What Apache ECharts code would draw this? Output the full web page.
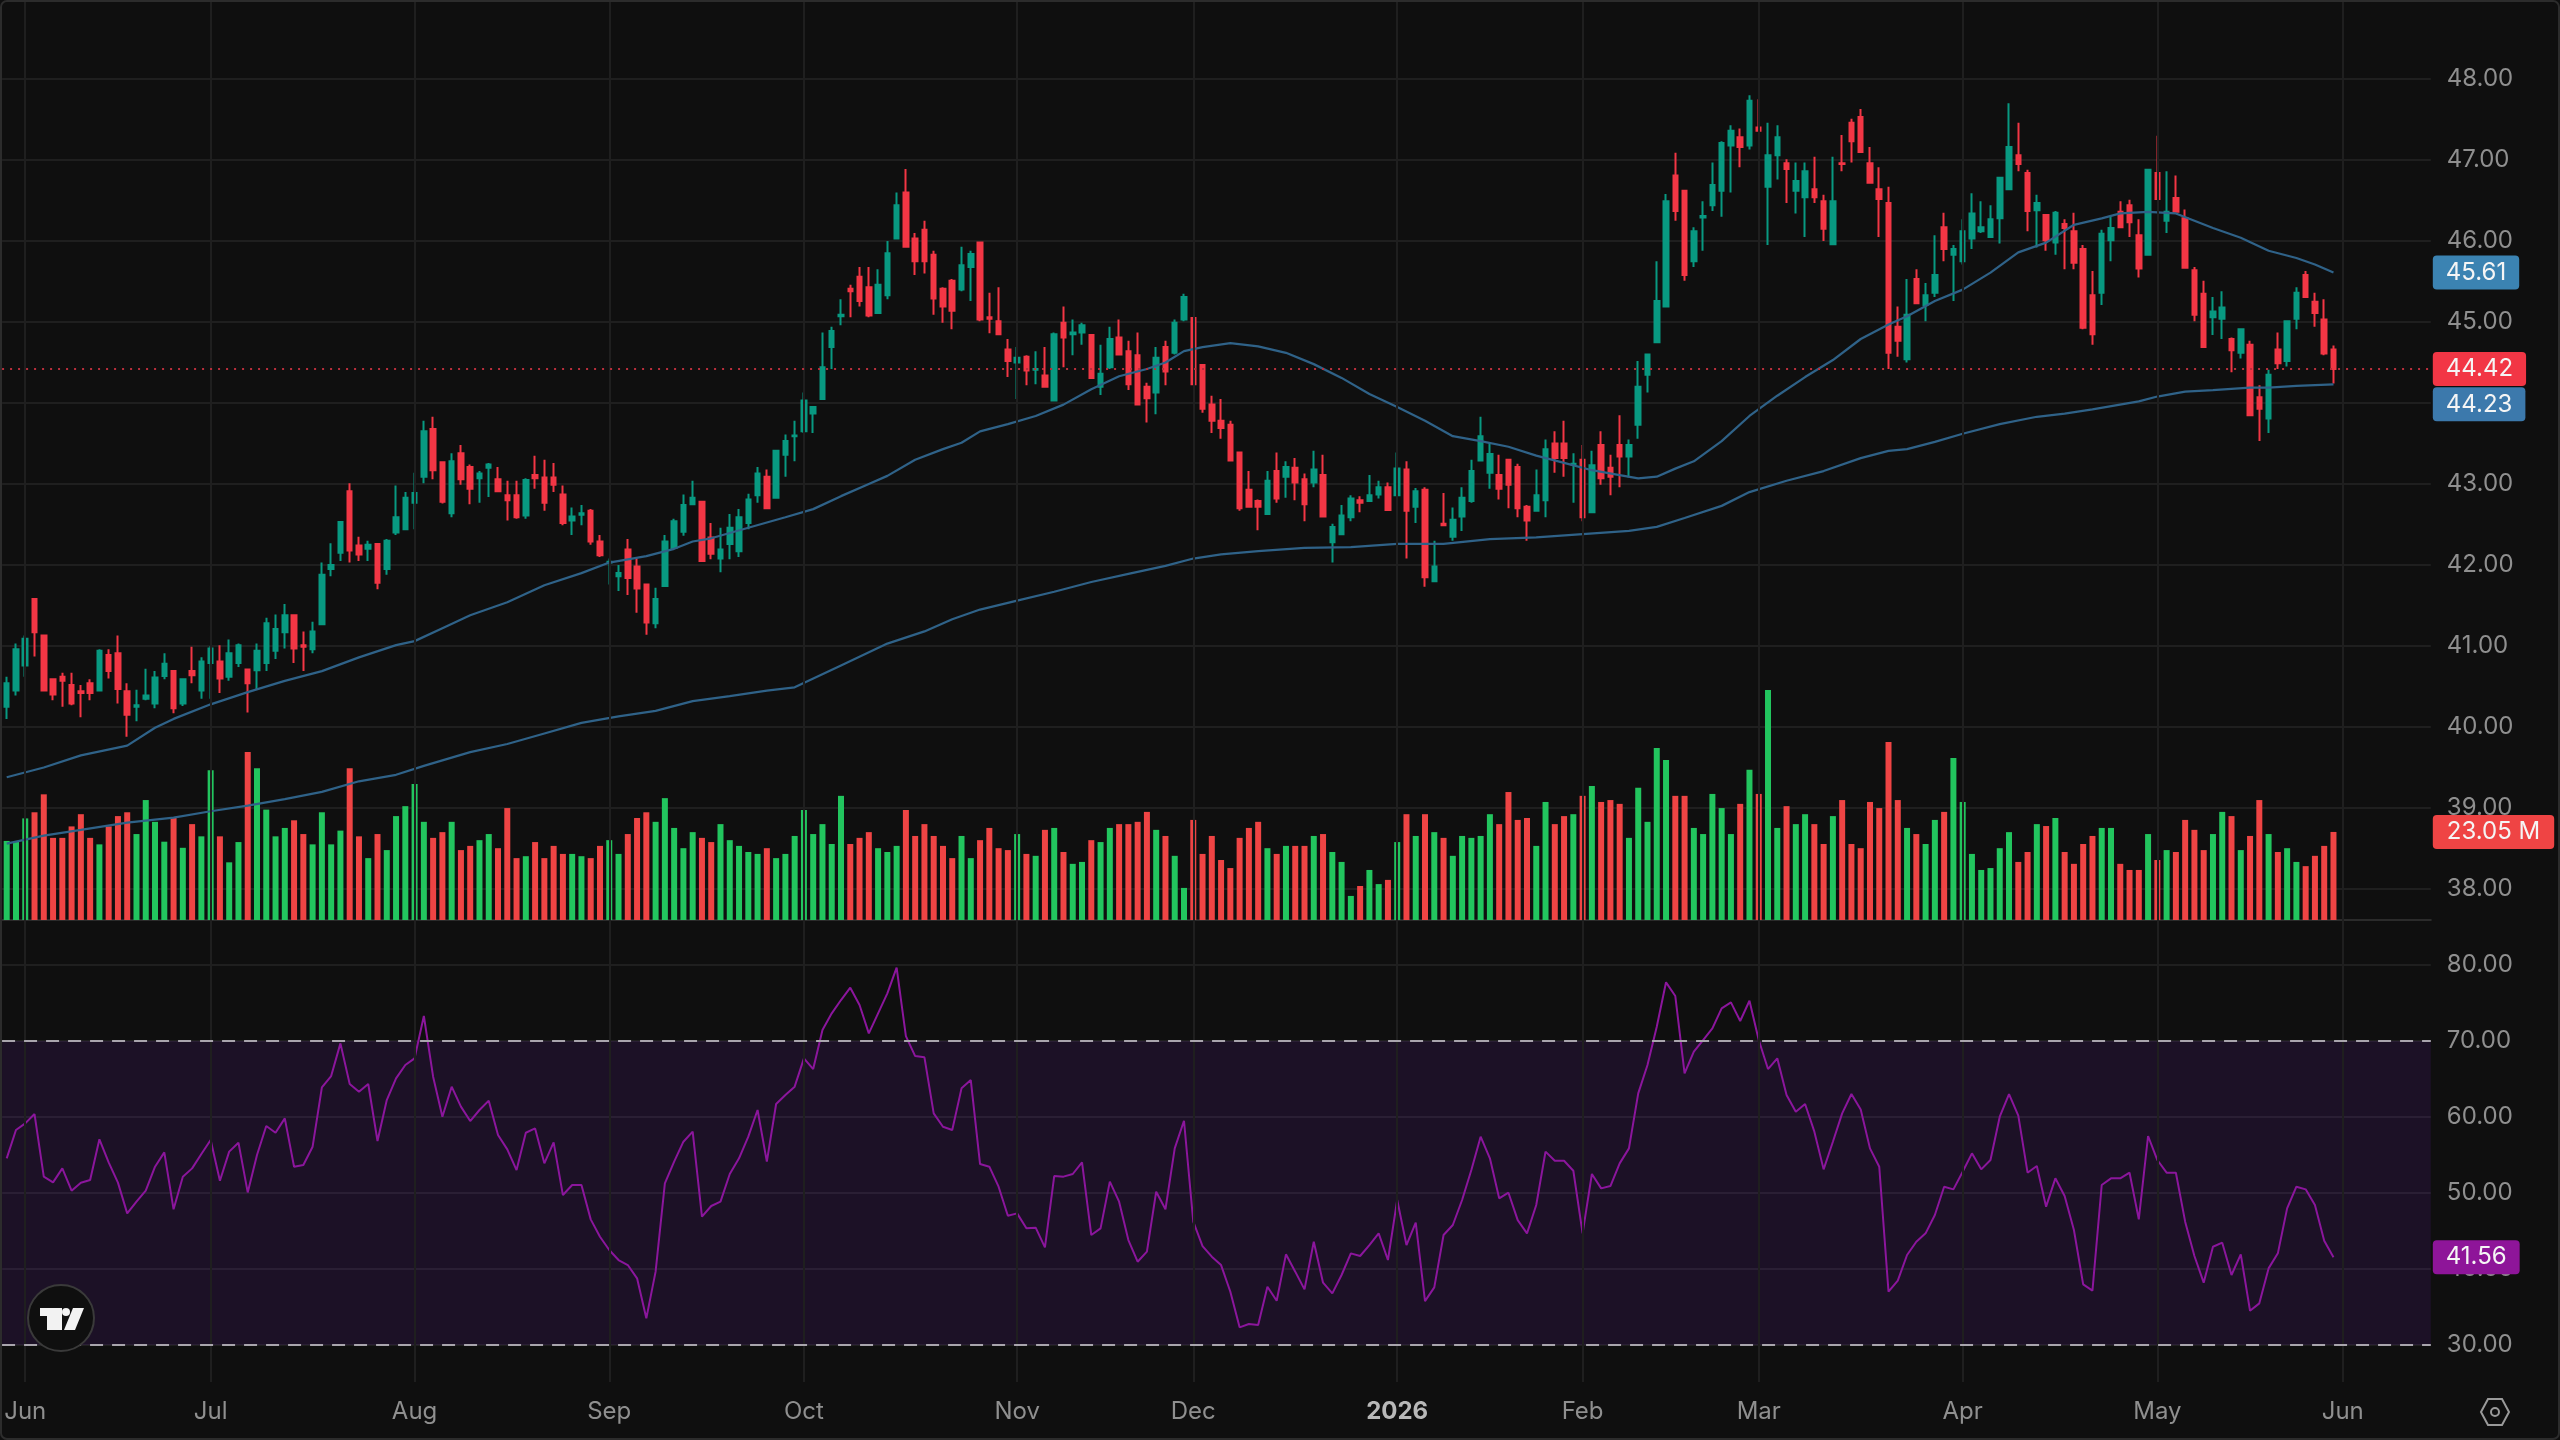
<!DOCTYPE html>
<html>
<head>
<meta charset="utf-8">
<title>Daily candlestick chart with volume and RSI</title>
<style>
  html, body { margin: 0; padding: 0; background: #0f0f0f; }
  #chart { width: 2560px; height: 1440px; }
</style>
<script src="https://cdn.jsdelivr.net/npm/echarts@6/dist/echarts.min.js"></script>
</head>
<body>
<div id="chart"></div>
<script>
// Daily session prices
const opens = [
40.25,40.45,40.76,41.58,41.13,40.59,40.62,40.52,40.44,40.54,
40.45,40.89,40.91,40.44,40.25,40.35,40.29,40.63,40.69,40.29,
40.69,40.45,40.79,40.81,40.62,40.79,40.71,40.70,40.79,40.94,
41.17,41.38,41.01,40.96,41.27,41.95,42.15,42.91,42.24,42.20,
42.26,41.95,42.40,42.44,42.77,43.09,43.68,43.27,42.64,43.38,
43.21,43.07,43.20,43.06,42.86,42.86,42.61,43.11,43.08,43.08,
42.87,42.55,42.62,42.67,42.29,42.03,41.86,42.19,41.98,41.76,
41.28,41.74,42.21,42.41,42.75,42.78,42.34,42.08,42.26,42.17,
42.52,42.86,43.09,42.83,43.36,43.59,43.65,43.87,44.05,44.69,
45.07,45.41,45.56,45.43,45.11,45.33,46.03,46.60,46.03,46.14,
45.83,45.41,45.51,45.40,45.68,45.98,45.06,45.01,44.66,44.50,
44.57,44.41,44.34,44.03,44.99,44.85,44.87,44.84,44.20,44.44,
44.81,44.64,44.59,44.20,44.13,44.69,44.62,45.03,45.05,44.47,
43.98,43.78,43.73,43.39,42.93,42.79,42.63,43.16,43.09,43.20,
43.06,43.02,43.11,42.28,42.38,42.59,42.80,42.79,42.87,42.96,
42.86,43.18,42.72,42.93,41.80,42.51,42.35,42.60,42.79,43.29,
43.14,43.11,43.30,43.21,42.72,42.67,42.80,43.50,43.50,43.24,
43.30,42.65,43.48,43.20,43.48,43.34,43.73,44.35,44.75,45.19,
46.81,46.62,45.75,46.29,46.44,46.62,47.18,47.28,47.18,47.40,
46.67,47.06,46.96,46.62,46.54,46.64,46.49,45.96,46.96,47.46,
47.53,46.96,46.64,46.47,44.94,44.54,45.53,45.21,45.36,46.17,
45.83,45.75,46.03,46.12,46.05,46.28,46.64,47.06,46.84,46.38,
46.32,45.98,46.21,46.12,45.90,45.33,45.36,46.01,46.36,46.44,
46.07,45.83,46.84,46.25,46.53,46.28,45.64,45.35,45.06,45.04,
44.79,44.62,44.72,44.07,43.81,44.66,44.52,45.04,45.58,45.25,
45.03,44.66];
const closes = [
40.54,40.96,41.09,41.17,40.45,40.40,40.57,40.29,40.42,40.42,
40.94,40.69,40.47,40.15,40.27,40.39,40.61,40.78,40.23,40.59,
40.64,40.81,40.97,40.60,40.91,41.01,40.54,40.94,41.28,41.21,
41.38,40.97,40.99,41.18,41.88,42.00,42.53,42.18,42.13,42.25,
41.78,42.30,42.59,42.83,42.89,43.65,43.17,42.78,43.28,43.06,
42.94,43.13,43.24,42.91,42.80,42.59,43.05,43.07,42.77,42.99,
42.52,42.60,42.64,42.29,42.12,42.04,41.90,41.84,41.71,41.29,
41.58,42.29,42.54,42.74,42.83,42.05,42.14,42.19,42.46,42.59,
42.81,43.13,42.70,43.41,43.53,43.60,44.03,43.95,44.44,44.89,
45.09,45.38,45.26,45.08,45.46,45.85,46.44,45.93,45.75,45.75,
45.29,45.19,45.14,45.70,45.84,45.03,45.04,44.85,44.52,44.56,
44.40,44.42,44.20,44.85,44.81,44.87,44.96,44.31,44.36,44.79,
44.60,44.23,43.98,44.06,44.56,44.39,44.99,45.31,44.23,43.93,
43.78,43.69,43.29,42.70,42.72,42.72,43.04,42.82,43.21,43.02,
42.75,43.18,42.60,42.47,42.61,42.82,42.77,42.86,42.96,42.68,
43.19,42.67,42.91,41.85,41.98,42.49,42.56,42.83,43.16,43.59,
43.37,42.94,42.99,42.70,42.55,42.86,43.43,43.32,43.32,43.25,
42.59,43.23,43.07,43.09,43.34,43.48,44.20,44.60,45.26,46.49,
46.37,45.58,46.12,46.31,46.69,47.21,47.36,47.16,47.73,47.36,
47.06,47.28,46.89,46.74,46.86,46.54,46.15,46.49,46.95,47.23,
47.10,46.72,46.52,44.62,44.77,45.09,45.23,45.33,45.58,45.90,
45.90,46.12,46.34,46.17,46.27,46.78,47.16,46.95,46.37,46.47,
46.01,46.35,46.16,45.73,44.93,44.85,46.09,46.16,46.17,46.23,
45.66,46.88,46.52,46.36,46.36,45.67,45.09,44.69,45.13,45.18,
44.65,44.91,43.85,43.93,44.35,44.49,45.01,45.36,45.31,45.11,
44.61,44.42];
const lows = [
40.10,40.39,40.62,40.87,40.45,40.33,40.25,40.27,40.12,40.33,
40.45,40.60,40.29,39.88,40.07,40.33,40.23,40.59,40.17,40.26,
40.54,40.35,40.35,40.42,40.57,40.74,40.18,40.46,40.69,40.84,
40.97,40.79,40.69,40.91,41.26,41.86,42.05,42.03,42.05,42.05,
41.70,41.88,42.37,42.44,42.44,43.01,43.06,42.76,42.59,42.99,
42.75,42.77,42.84,42.90,42.55,42.57,42.57,42.94,42.67,42.90,
42.49,42.37,42.49,42.25,42.10,41.76,41.68,41.63,41.41,41.14,
41.22,41.74,42.20,42.36,42.75,42.05,42.07,41.91,42.07,42.10,
42.44,42.77,42.69,42.82,43.09,43.28,43.63,43.63,44.05,44.42,
44.96,45.06,45.19,45.06,45.11,45.28,46.03,45.93,45.58,45.60,
45.09,44.99,44.91,45.38,45.26,45.01,44.86,44.84,44.32,44.05,
44.22,44.23,44.20,44.03,44.44,44.59,44.72,44.30,44.10,44.42,
44.59,44.16,43.98,43.76,43.86,44.22,44.60,45.01,44.22,43.88,
43.63,43.56,43.28,42.67,42.72,42.43,42.63,42.77,42.83,42.80,
42.54,42.96,42.60,42.03,42.37,42.54,42.65,42.78,42.82,42.68,
42.85,42.08,42.52,41.73,41.80,42.49,42.30,42.42,42.77,43.29,
42.94,42.81,42.70,42.59,42.30,42.67,42.59,43.14,43.09,42.77,
42.54,42.65,42.99,42.86,42.96,43.08,43.56,44.13,44.74,45.19,
46.25,45.51,45.68,45.88,46.37,46.30,46.60,46.91,47.13,47.36,
45.95,46.76,46.47,46.34,46.05,46.47,46.00,45.95,46.86,46.97,
47.09,46.72,46.05,44.42,44.57,44.50,45.22,45.01,45.31,45.75,
45.26,45.71,45.90,46.10,46.05,45.97,46.63,46.86,46.12,45.92,
45.88,45.83,45.65,45.65,44.91,44.72,45.21,45.75,46.17,46.05,
45.55,45.83,46.52,46.10,46.36,45.66,45.01,44.69,44.84,44.79,
44.38,44.55,43.84,43.53,43.63,44.42,44.45,44.91,45.31,44.94,
44.59,44.24];
const highs = [
40.62,41.03,41.13,41.58,41.13,40.59,40.67,40.67,40.52,40.59,
40.96,40.96,41.13,40.54,40.46,40.72,40.69,40.91,40.69,40.59,
40.99,40.86,41.00,41.01,41.08,41.03,40.72,41.03,41.35,41.39,
41.52,41.38,41.18,41.30,42.03,42.27,42.54,43.01,42.35,42.30,
42.27,42.32,42.98,42.90,43.14,43.78,43.83,43.28,43.38,43.48,
43.24,43.16,43.26,43.21,43.04,43.04,43.07,43.35,43.30,43.26,
42.98,42.71,42.74,42.69,42.37,42.08,42.00,42.32,42.08,41.77,
41.72,42.37,42.57,42.87,43.04,42.79,42.52,42.46,42.63,42.69,
42.88,43.21,43.18,43.41,43.61,43.78,44.13,43.95,44.87,44.94,
45.28,45.46,45.68,45.68,45.65,46.00,46.60,46.89,46.10,46.25,
45.88,45.43,45.53,45.93,45.88,45.98,45.36,45.43,44.79,44.69,
44.59,44.64,44.69,44.87,45.19,45.03,44.99,44.84,44.72,44.94,
45.03,44.77,44.87,44.25,44.69,44.77,45.03,45.35,45.06,44.47,
44.09,44.05,43.78,43.40,43.16,42.81,43.16,43.39,43.28,43.32,
43.13,43.41,43.36,42.51,42.74,42.86,42.85,43.11,43.04,43.02,
43.39,43.28,42.95,42.96,42.30,42.89,42.71,42.96,43.30,43.83,
43.51,43.36,43.30,43.25,42.74,43.18,43.55,43.65,43.78,43.38,
43.48,43.41,43.65,43.36,43.85,43.55,44.52,44.61,45.75,46.58,
47.09,46.62,46.17,46.49,46.97,47.23,47.43,47.39,47.80,47.75,
47.46,47.43,47.01,46.97,46.97,47.04,46.57,47.04,47.31,47.51,
47.63,47.16,46.91,46.67,45.19,45.53,45.65,45.48,46.07,46.35,
45.95,46.27,46.59,46.49,46.44,46.78,47.70,47.46,46.88,46.57,
46.32,46.37,46.27,46.35,45.95,45.63,46.14,46.30,46.49,46.51,
46.27,46.88,47.30,46.86,46.81,46.39,45.68,45.51,45.31,45.38,
44.81,44.91,44.77,44.22,44.41,44.87,45.01,45.43,45.63,45.36,
45.28,44.71];

// Share volume per session, in millions
const volumes = [
20.7,20.6,26.6,28.2,32.9,21.5,21.5,24.5,27.7,21.5,
19.8,24.5,27.2,28.2,22.5,31.4,25.7,20.5,26.7,18.9,
25.1,21.9,39.2,21.9,15.1,20.4,44.0,39.7,28.9,21.9,
24.1,26.1,22.5,19.8,28.2,19.8,23.4,39.7,21.9,16.2,
22.5,18.3,27.2,29.8,35.6,25.7,21.5,23.0,25.7,18.3,
19.4,20.9,22.5,18.8,29.3,16.2,16.7,20.4,16.2,19.4,
17.3,17.3,16.7,16.2,19.4,20.9,17.3,22.5,26.7,28.2,
25.7,31.9,24.1,18.8,23.0,21.5,20.4,25.1,20.9,19.4,
17.8,17.3,18.8,16.2,17.3,22.0,28.8,22.5,25.1,19.9,
32.5,19.9,21.5,23.0,18.8,17.8,19.4,28.8,22.0,25.1,
22.0,19.4,16.2,22.0,16.2,20.9,24.1,18.8,18.3,22.5,
17.3,16.8,23.6,24.1,17.8,14.7,15.2,20.9,20.4,24.1,
25.1,25.1,25.7,28.3,23.6,22.0,16.8,8.4,26.2,17.3,
22.0,15.7,13.6,21.5,24.1,25.7,18.8,17.3,19.4,19.4,
19.4,22.0,22.5,17.8,15.2,6.3,8.9,13.1,9.4,10.5,
20.4,27.7,22.0,27.7,23.0,21.5,16.8,22.0,21.5,22.0,
27.7,25.1,33.5,26.2,26.7,19.4,30.9,25.1,27.2,27.7,
32.5,35.1,30.9,31.4,30.4,21.5,34.6,25.7,45.0,41.9,
32.5,32.5,24.1,22.5,33.0,29.3,22.5,30.4,39.3,33.0,
60.2,24.1,29.8,25.1,27.7,25.1,19.9,27.2,31.4,19.9,
18.8,30.9,29.3,46.6,31.4,24.1,22.5,19.9,26.2,28.3,
42.4,30.9,17.3,13.1,13.6,18.8,23.0,15.2,17.8,25.1,
24.6,26.7,17.8,14.7,19.9,22.0,24.1,24.1,14.7,13.1,
13.1,22.5,15.7,18.3,17.8,26.2,23.6,18.3,22.5,28.3,
27.2,18.3,22.0,31.4,22.5,17.8,18.8,15.2,14.1,16.8,
19.4,23.05];

// Relative strength index per session
const rsiValues = [
54.56,58.29,59.16,60.39,52.15,51.40,53.24,50.30,51.36,51.71,
57.06,54.03,51.36,47.32,48.86,50.30,53.46,55.35,47.85,52.15,
53.24,55.13,56.97,51.62,55.44,56.62,50.08,55.00,58.81,57.93,
59.82,53.46,53.68,56.09,63.90,65.39,69.69,64.34,63.33,64.34,
56.84,62.23,65.08,66.84,67.72,73.29,65.30,60.04,63.99,61.36,
59.47,60.92,62.15,57.63,55.74,53.02,57.93,58.50,53.90,56.66,
49.73,51.05,51.05,46.53,44.25,42.50,41.18,40.52,38.77,33.51,
39.65,51.27,54.12,56.75,58.07,46.88,48.29,48.86,52.50,54.56,
57.41,60.92,54.12,61.71,62.89,63.99,67.72,66.31,71.44,73.64,
75.39,77.01,74.73,71.00,73.64,76.27,79.65,70.65,68.02,67.85,
60.48,58.72,58.29,63.77,64.86,53.81,53.46,50.83,47.01,47.32,
45.35,45.44,42.85,52.23,52.15,52.50,54.03,44.47,45.35,51.49,
48.86,43.81,40.96,42.28,50.17,47.85,55.87,59.51,46.23,43.02,
41.62,40.52,37.01,32.32,32.76,32.63,37.67,35.83,41.93,39.65,
37.32,43.59,38.20,36.79,39.21,42.06,41.71,43.15,44.69,41.18,
49.08,43.15,46.09,35.78,37.58,44.47,45.79,49.08,53.02,57.41,
54.56,49.30,50.04,46.44,44.69,48.42,55.44,54.25,54.25,52.93,
44.69,52.50,50.61,50.92,53.90,55.87,63.11,66.84,71.88,77.72,
75.92,65.74,68.59,70.13,71.66,74.29,75.08,72.63,75.30,70.13,
66.31,67.72,62.89,60.70,61.71,58.07,53.11,56.75,60.48,63.02,
61.00,55.87,53.46,37.01,38.46,41.84,43.59,44.69,47.10,50.83,
50.48,52.80,55.22,53.11,54.34,60.04,63.02,60.17,52.67,53.55,
48.20,51.93,49.60,45.13,37.98,37.15,51.05,51.93,51.93,52.67,
46.53,57.50,54.34,52.67,52.67,46.23,41.71,38.20,42.93,43.46,
39.21,41.93,34.51,35.48,40.08,42.06,47.98,50.83,50.48,48.42,
43.72,41.56];

// Moving averages as [session, value] readings
const fastAverage = [
[0,39.38],[4,39.50],[8,39.65],[13,39.77],[16,39.99],[18,40.10],[22,40.28],[26,40.43],[30,40.57],[34,40.69],
[38,40.86],[42,41.01],[44,41.06],[47,41.22],[50,41.38],[54,41.54],[58,41.75],[62,41.90],[65,42.03],[69,42.11],
[72,42.20],[74,42.29],[76,42.33],[80,42.46],[84,42.59],[87,42.69],[90,42.85],[93,43.00],[95,43.10],[98,43.30],
[101,43.43],[103,43.51],[105,43.65],[108,43.74],[111,43.84],[114,43.98],[117,44.17],[120,44.33],[123,44.42],[125,44.50],
[127,44.64],[129,44.69],[132,44.74],[135,44.70],[138,44.62],[141,44.48],[144,44.31],[147,44.11],[150,43.95],[153,43.78],
[156,43.59],[159,43.53],[162,43.46],[165,43.35],[168,43.26],[171,43.17],[174,43.11],[176,43.07],[178,43.09],[180,43.19],
[182,43.28],[185,43.53],[188,43.84],[191,44.09],[194,44.32],[197,44.53],[200,44.79],[203,44.97],[205,45.07],[208,45.26],
[211,45.40],[214,45.61],[217,45.86],[220,45.98],[223,46.20],[226,46.28],[228,46.34],[231,46.36],[234,46.34],[236,46.25],
[238,46.16],[241,46.04],[244,45.88],[247,45.79],[249,45.71],[251,45.61]];
const slowAverage = [
[0,38.56],[4,38.66],[8,38.73],[13,38.82],[18,38.88],[22,38.96],[26,39.03],[30,39.11],[34,39.20],[38,39.33],
[42,39.41],[45,39.52],[50,39.69],[54,39.79],[58,39.92],[62,40.05],[66,40.13],[70,40.20],[74,40.32],[78,40.38],
[82,40.45],[85,40.49],[90,40.76],[95,41.03],[99,41.18],[102,41.33],[105,41.45],[109,41.56],[113,41.67],[117,41.79],
[121,41.89],[125,41.99],[128,42.08],[131,42.13],[135,42.17],[140,42.21],[145,42.22],[150,42.26],[155,42.26],[160,42.32],
[165,42.34],[170,42.38],[175,42.42],[178,42.47],[181,42.58],[185,42.73],[188,42.90],[192,43.04],[196,43.16],[200,43.32],
[203,43.41],[205,43.43],[208,43.52],[211,43.62],[215,43.74],[219,43.83],[222,43.87],[225,43.92],[230,44.02],[232,44.08],
[235,44.14],[238,44.16],[242,44.19],[244,44.19],[247,44.21],[251,44.23]];

// Month boundaries on the session axis
const monthTicks = [
['Jun',2],['Jul',22],['Aug',44],['Sep',65],['Oct',86],['Nov',109],['Dec',128],
['2026',150],['Feb',170],['Mar',189],['Apr',211],['May',232],['Jun',252]];
const lastClose = 44.42, fastLast = 45.61, slowLast = 44.23, lastVolume = 23.05, lastRsi = 41.56;
const priceTicks = { min: 38, max: 49, interval: 1, hideTop: true };
const rsiTicks = { min: 30, max: 80, interval: 10, hideTop: false };
const slotCount = 262;

const FONT = 'Inter';
const BG = '#0f0f0f', UP = '#089981', DOWN = '#F23645';
const VOL_UP = '#22C55E', VOL_DOWN = '#EF4444';
const GRID = '#1f1f1f', AXIS_TEXT = '#8f8f8f';
const MA_COLOR = '#2f6288', RSI_COLOR = '#8b169c';
const LEFT = 2.07, WIDTH = 2428.74;

const slots = Array.from({ length: slotCount }, (_, i) => String(i));
const tickMap = new Map(monthTicks.map(([name, i]) => [i, name]));
const candles = opens.map((o, i) => [o, closes[i], lows[i], highs[i]]);

const hiddenCat = gridIndex => ({
  type: 'category', gridIndex, data: slots, boundaryGap: true,
  axisLine: { show: false }, axisTick: { show: false }, axisLabel: { show: false }, splitLine: { show: false }
});
const valueAxis = (gridIndex, t) => ({
  type: 'value', gridIndex, position: 'right', min: t.min, max: t.max, interval: t.interval, scale: true,
  axisLine: { show: false }, axisTick: { show: false },
  splitLine: { lineStyle: { color: GRID, width: 2 } },
  axisLabel: {
    margin: 16, color: AXIS_TEXT, fontFamily: FONT, fontSize: 24, showMaxLabel: !t.hideTop,
    formatter: v => v.toFixed(2)
  }
});
// A value tag sitting on the right-hand scale; the guide line stays invisible unless styled
const tag = (axis, value, text, bg, opts = {}) => ({
  [axis]: value,
  lineStyle: opts.line || { color: 'rgba(0,0,0,0)', width: 0 },
  label: {
    show: true, position: 'end', formatter: text, distance: 2, offset: opts.offset || [0, 0],
    color: '#f5f5f5', backgroundColor: bg, borderRadius: 4, padding: opts.padding || [5, 13],
    fontFamily: FONT, fontSize: 24, lineHeight: 24
  }
});
const pane = (top, height) => ({ left: LEFT, width: WIDTH, top, height, outerBoundsMode: 'none' });

const option = {
  animation: false,
  backgroundColor: BG,
  grid: [pane(0, 1382), pane(-2, 891), pane(614.4, 305.6), pane(965, 380)],
  xAxis: [
    {
      type: 'category', gridIndex: 0, data: slots, boundaryGap: true,
      axisLine: { show: false }, axisTick: { show: false }, splitLine: { show: false },
      axisLabel: {
        margin: 18, color: AXIS_TEXT, fontFamily: FONT, fontSize: 24,
        interval: i => tickMap.has(i),
        formatter: (v, i) => {
          const name = tickMap.get(i);
          return name === '2026' ? '{year|2026}' : name;
        },
        rich: { year: { color: '#b8b8b8', fontWeight: 700, fontFamily: FONT, fontSize: 24 } }
      }
    },
    hiddenCat(1),
    { ...hiddenCat(2), axisLine: { show: true, onZero: false, lineStyle: { color: '#2b2b2b', width: 2 } } },
    hiddenCat(3)
  ],
  yAxis: [
    { type: 'value', gridIndex: 0, min: 0, max: 1, show: false },
    valueAxis(1, priceTicks),
    { type: 'value', gridIndex: 2, min: 0, max: 80, show: false },
    valueAxis(3, rsiTicks)
  ],
  series: [
    {
      // Vertical month lines spanning every pane
      type: 'line', xAxisIndex: 0, yAxisIndex: 0, z: 0, silent: true, showSymbol: false,
      data: [[0, 0.5]], lineStyle: { opacity: 0 },
      markLine: {
        silent: true, symbol: 'none', label: { show: false }, animation: false,
        lineStyle: { color: GRID, width: 2, type: 'solid' },
        data: monthTicks.map(([, i]) => ({ xAxis: i }))
      }
    },
    {
      type: 'bar', xAxisIndex: 2, yAxisIndex: 2, z: 1, silent: true, barWidth: 6,
      data: volumes,
      itemStyle: { color: p => closes[p.dataIndex] >= opens[p.dataIndex] ? VOL_UP : VOL_DOWN },
      markLine: {
        silent: true, symbol: 'none', animation: false,
        data: [tag('yAxis', lastVolume, lastVolume + ' M', VOL_DOWN, { padding: [5, 14] })]
      }
    },
    {
      type: 'candlestick', xAxisIndex: 1, yAxisIndex: 1, z: 2, silent: true, barWidth: 5,
      data: candles,
      itemStyle: { color: UP, color0: DOWN, borderColor: UP, borderColor0: DOWN, borderWidth: 2 },
      markLine: {
        silent: true, symbol: 'none', animation: false,
        data: [tag('yAxis', lastClose, lastClose.toFixed(2), DOWN, {
          line: { color: '#b92f3c', width: 2, type: [2, 6] }
        })]
      }
    },
    {
      type: 'line', xAxisIndex: 1, yAxisIndex: 1, z: 3, silent: true, showSymbol: false,
      data: fastAverage, lineStyle: { color: MA_COLOR, width: 2.25 },
      markLine: {
        silent: true, symbol: 'none', animation: false,
        data: [tag('yAxis', fastLast, fastLast.toFixed(2), '#3b83b2')]
      }
    },
    {
      type: 'line', xAxisIndex: 1, yAxisIndex: 1, z: 3, silent: true, showSymbol: false,
      data: slowAverage, lineStyle: { color: MA_COLOR, width: 2.25 },
      markLine: {
        silent: true, symbol: 'none', animation: false,
        data: [tag('yAxis', slowLast, slowLast.toFixed(2), '#3c79ac', { offset: [0, 20] })]
      }
    },
    {
      type: 'line', xAxisIndex: 3, yAxisIndex: 3, z: 3, silent: true, showSymbol: false,
      data: rsiValues, lineStyle: { color: RSI_COLOR, width: 2 },
      markArea: {
        silent: true,
        itemStyle: { color: 'rgba(126,34,206,0.12)' },
        data: [[{ yAxis: 70 }, { yAxis: 30 }]]
      },
      markLine: {
        silent: true, symbol: 'none', animation: false,
        data: [
          { yAxis: 70, label: { show: false }, lineStyle: { color: '#a9a5ad', width: 2, type: [13, 9] } },
          { yAxis: 30, label: { show: false }, lineStyle: { color: '#a9a5ad', width: 2, type: [13, 9] } },
          tag('yAxis', lastRsi, lastRsi.toFixed(2), '#8e1599')
        ]
      }
    }
  ],
  graphic: [
    // Outer frame
    { type: 'rect', silent: true, z: 50, shape: { x: 1, y: 1, width: 2558, height: 1438, r: 6 },
      style: { fill: 'none', stroke: '#2c2c2c', lineWidth: 2 } },
    // Brand badge
    { type: 'circle', silent: true, z: 50, shape: { cx: 61, cy: 1318, r: 33 },
      style: { fill: '#0f0f0f', stroke: '#3a3a3a', lineWidth: 2 } },
    { type: 'polygon', silent: true, z: 51,
      shape: { points: [[40, 1308], [62, 1308], [62, 1330], [47, 1330], [47, 1316], [40, 1316]] },
      style: { fill: '#f2f2f2' } },
    { type: 'circle', silent: true, z: 51, shape: { cx: 66, cy: 1312, r: 4 }, style: { fill: '#f2f2f2' } },
    { type: 'polygon', silent: true, z: 51,
      shape: { points: [[73, 1308], [84, 1308], [75, 1330], [64, 1330]] },
      style: { fill: '#f2f2f2' } },
    // Settings glyph
    { type: 'polygon', silent: true, z: 51,
      shape: { points: [[2481, 1412], [2488, 1399], [2502, 1399], [2509, 1412], [2502, 1425], [2488, 1425]] },
      style: { fill: 'none', stroke: '#9a9a9a', lineWidth: 2 } },
    { type: 'circle', silent: true, z: 51, shape: { cx: 2495, cy: 1412, r: 4 },
      style: { fill: 'none', stroke: '#9a9a9a', lineWidth: 2 } }
  ]
};

echarts.init(document.getElementById('chart'), null, { renderer: 'canvas' }).setOption(option);
</script>
</body>
</html>
